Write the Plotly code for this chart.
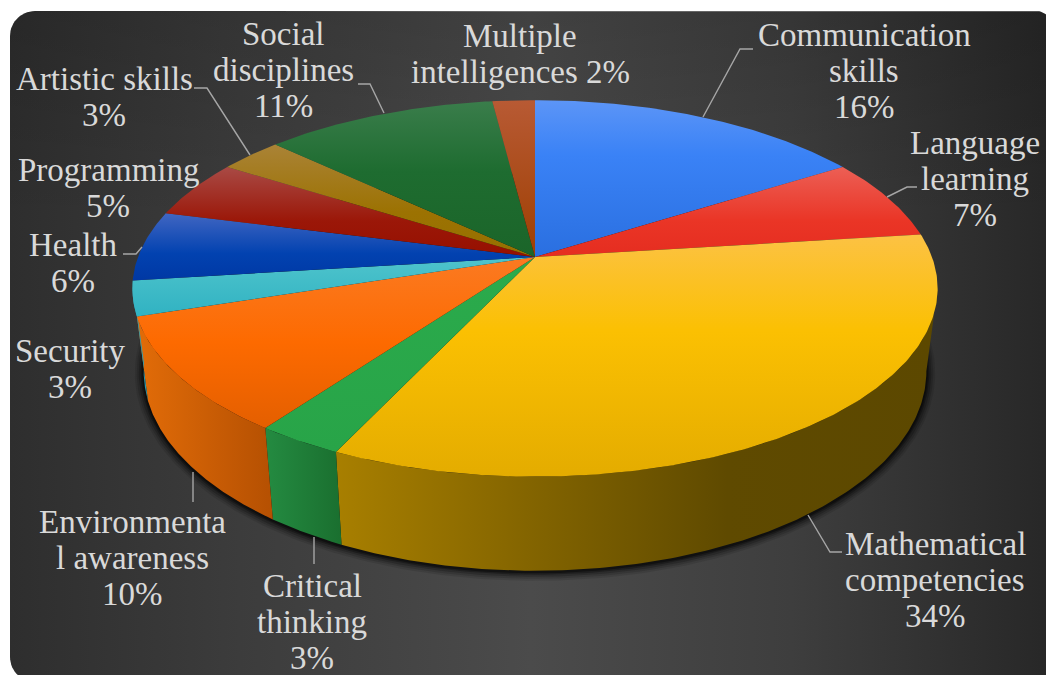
import math
import numpy as np
import plotly.graph_objects as go

# Slice values, clockwise from twelve o'clock
categories = ["Communication skills", "Language learning", "Mathematical competencies",
              "Critical thinking", "Environmental awareness", "Security", "Health",
              "Programming", "Artistic skills", "Social disciplines", "Multiple intelligences"]
shares = [16, 7, 34, 3, 10, 3, 6, 5, 3, 11, 2]

# Wrapped label text; the share is appended per label
label_lines = [["Communication", "skills"], ["Language", "learning"], ["Mathematical", "competencies"],
               ["Critical", "thinking"], ["Environmenta", "l awareness"], ["Security"], ["Health"],
               ["Programming"], ["Artistic skills"], ["Social", "disciplines"], ["Multiple", "intelligences"]]

# Top-face vertical gradient stops (position 0 = upper edge of the slice)
top_colors = [
    [[0, "#5c95f7"], [0.35, "#3a82f6"], [1, "#2a6fe0"]],
    [[0, "#ec5f55"], [0.6, "#ea3526"], [1, "#e52d20"]],
    [[0, "#fcc244"], [0.4, "#fbc002"], [1, "#e4ac00"]],
    [[0, "#2bab4c"], [1, "#28a448"]],
    [[0, "#fb7a22"], [0.5, "#fd6a00"], [1, "#e45f00"]],
    [[0, "#4fc4cc"], [1, "#30b2c2"]],
    [[0, "#4166c2"], [0.6, "#0242b0"], [1, "#0038a4"]],
    [[0, "#a94a45"], [0.6, "#9b1708"], [1, "#961000"]],
    [[0, "#aa8336"], [0.6, "#9c7202"], [1, "#967000"]],
    [[0, "#3a7d4b"], [0.45, "#1e6c30"], [1, "#1b6529"]],
    [[0, "#b85a34"], [1, "#9e3f02"]],
]

# Side-wall horizontal gradients for the slices that face the viewer
wall_colors = {
    2: [[0, "#a87f00"], [0.35, "#806200"], [0.65, "#5f4a00"], [1, "#5c4800"]],
    3: [[0, "#248b41"], [1, "#1a6f2f"]],
    4: [[0, "#e26c08"], [1, "#b55002"]],
    5: [[0, "#2b9bae"], [1, "#2b9bae"]],
}

# Projection of the disc: apex, radius, depth scale, perspective strength
CX, CY, R, H, D = 535.0, 257.0, 397.0, 183.0, 1 / 6
BASE_CY, BASE_FX, BASE_FY = 338.0, 0.972, 1.06


def top_xy(theta):
    sx, cy = np.sin(theta), -np.cos(theta)
    s = 1 / (1 - D * cy)
    return CX + sx * R * s, CY + cy * H * s


def base_xy(theta):
    x, y = top_xy(theta)
    return CX + (x - CX) * BASE_FX, BASE_CY + (y - CY) * BASE_FY


def filled(x, y, gradient=None, color=None, orientation="vertical"):
    kw = dict(x=list(x), y=list(y), mode="lines", fill="toself",
              line=dict(width=0), hoverinfo="skip", showlegend=False)
    if gradient is not None:
        lo, hi = (min(y), max(y)) if orientation == "vertical" else (min(x), max(x))
        kw["fillgradient"] = dict(type=orientation, colorscale=gradient, start=lo, stop=hi)
    else:
        kw["fillcolor"] = color
    return go.Scatter(**kw)


def card_outline(x0, y0, x1, y1, r_left, r_right):
    xs, ys = [], []
    corners = [(x0 + r_left, y0 + r_left, r_left, 180), (x1 - r_right, y0 + r_right, r_right, 270),
               (x1 - r_right, y1 - r_right, r_right, 0), (x0 + r_left, y1 - r_left, r_left, 90)]
    for cx, cy, r, a0 in corners:
        for a in np.radians(np.linspace(a0, a0 + 90, 16)):
            xs.append(cx + r * math.cos(a))
            ys.append(cy + r * math.sin(a))
    return xs, ys


fig = go.Figure()

# Card background: a horizontal sweep, slightly darker towards the top edge
bx, by = card_outline(10, 11, 1052, 682, 25, 16)
fig.add_trace(go.Scatter(
    x=bx, y=by, mode="lines", fill="toself", line=dict(width=0), hoverinfo="skip", showlegend=False,
    fillgradient=dict(type="horizontal", start=10, stop=1052,
                      colorscale=[[0, "#2e2e2e"], [0.22, "#3c3c3c"], [0.5, "#4b4b4b"],
                                  [0.75, "#3e3e3e"], [1, "#272727"]])))
fig.add_trace(go.Scatter(
    x=bx, y=by, mode="lines", fill="toself", line=dict(width=0), hoverinfo="skip", showlegend=False,
    fillgradient=dict(type="vertical", start=11, stop=220,
                      colorscale=[[0, "rgba(0,0,0,0.14)"], [1, "rgba(0,0,0,0)"]])))

# Soft shadow under the disc
full = np.linspace(0, 2 * math.pi, 361)
for grow, alpha in [(9, 0.10), (7, 0.14), (5, 0.2), (3, 0.3), (1.5, 0.4)]:
    sx, sy = base_xy(full)
    fig.add_trace(filled(sx + np.sign(sx - CX) * grow * np.abs(np.sin(full)),
                         sy + grow * np.clip(-np.cos(full), -0.2, 1) + 1,
                         color=f"rgba(0,0,0,{alpha})"))

# Angular boundaries of every slice
edges = np.radians(np.cumsum([0] + shares) * 3.6)

# Side walls, running from the right-hand silhouette tangent to the end of the visible left slice
wall_start = math.acos(-D)
for i, grad in wall_colors.items():
    t = np.linspace(max(edges[i], wall_start), edges[i + 1], 160)
    tx, ty = top_xy(t)
    bxs, bys = base_xy(t[::-1])
    fig.add_trace(filled(np.r_[tx, bxs], np.r_[ty, bys], gradient=grad, orientation="horizontal"))

# Top faces
for i in range(len(shares)):
    t = np.linspace(edges[i], edges[i + 1], max(8, shares[i] * 6))
    tx, ty = top_xy(t)
    fig.add_trace(filled(np.r_[CX, tx, CX], np.r_[CY, ty, CY], gradient=top_colors[i]))

# Leader lines from the slices to their labels
leaders = [
    [(703, 117), (740, 49), (753, 49)],
    [(887, 197), (907, 187), (917, 187)],
    [(808, 515), (830, 552), (842, 552)],
    [(314, 537), (314, 564)],
    [(193, 472), (193, 502)],
    [(142, 247), (136, 254), (123, 254)],
    [(250, 155), (207, 88), (194, 88)],
    [(384, 113), (370, 84), (358, 84)],
]
for pts in leaders:
    fig.add_trace(go.Scatter(x=[p[0] for p in pts], y=[p[1] for p in pts], mode="lines",
                             line=dict(color="#a6a6a6", width=1.4), hoverinfo="skip", showlegend=False))

# Label placement: centre x and first-line y for each category
label_anchor = [(864, 35), (975, 143), (935, 544), (312, 586), (132, 522), (70, 351),
                (73, 245), (108, 170), (104, 79), (283, 34), (520, 36)]
LINE_STEP = 36
annotations = []
for i, (lines, share) in enumerate(zip(label_lines, shares)):
    lx, ly = label_anchor[i]
    if categories[i] == "Multiple intelligences":
        text_rows = [lines[0], f"{lines[1]} {share}%"]
    else:
        text_rows = lines + [f"{share}%"]
    for k, row in enumerate(text_rows):
        annotations.append(dict(x=lx, y=ly + k * LINE_STEP, text=row, showarrow=False,
                                xanchor="center", yanchor="middle", xref="x", yref="y",
                                font=dict(family="Liberation Serif", size=33, color="#d9d9d9")))

fig.update_layout(
    width=1046, height=675, margin=dict(l=0, r=0, t=0, b=0, pad=0),
    paper_bgcolor="white", plot_bgcolor="white", showlegend=False,
    xaxis=dict(range=[0, 1046], visible=False, fixedrange=True),
    yaxis=dict(range=[675, 0], visible=False, fixedrange=True),
    annotations=annotations,
)
fig.write_html("out.html")
